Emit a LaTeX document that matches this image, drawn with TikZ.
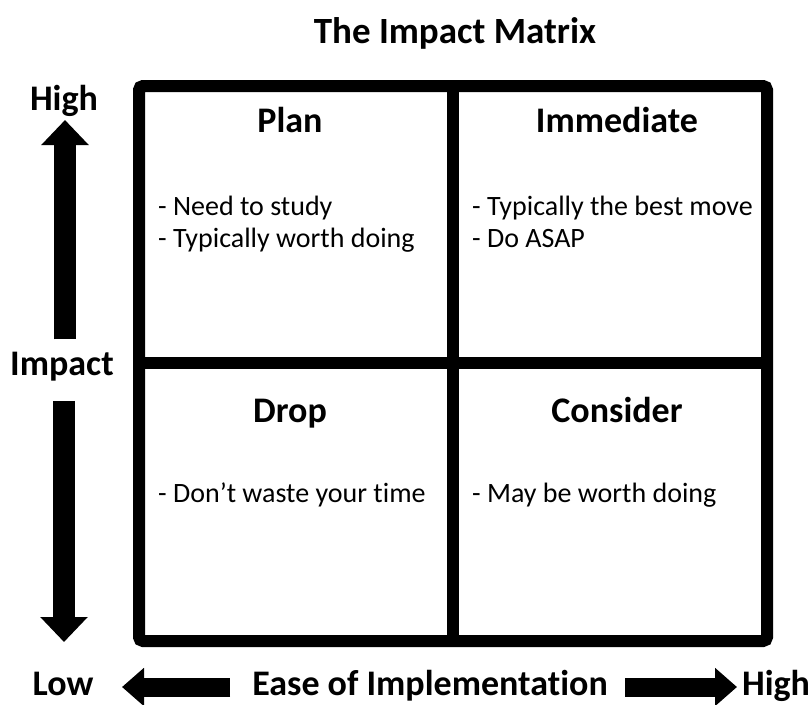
\documentclass[tikz,border=0pt]{standalone}
\usepackage{fontspec}
\setmainfont{Carlito}[Ligatures={NoCommon}]
\usetikzlibrary{arrows.meta}
\begin{document}
\begin{tikzpicture}[x=1pt,y=-1pt,
  heading/.style={font=\bfseries\fontsize{36}{43}\selectfont, anchor=base, inner sep=0pt},
  bullet/.style={font=\fontsize{28}{33.6}\selectfont, anchor=base west, inner sep=0pt},
  axislabel/.style={font=\bfseries\fontsize{36}{43}\selectfont, anchor=base, inner sep=0pt},
  frame/.style={line width=12pt, black},
  vbig/.style={line width=22pt, -{Triangle[width=46pt,length=25pt]}},
  hbig/.style={line width=19pt, -{Triangle[width=37pt,length=22pt]}}
]
\useasboundingbox (0,0) rectangle (811,704);
% title
\node[heading, font=\bfseries\fontsize{37}{44}\selectfont] (title) at (455,43) {The Impact Matrix};
% matrix frame
\draw[frame, rounded corners=4pt] (139,86) rectangle (767,641);
\draw[frame] (453,86) -- (453,641);
\draw[frame] (139,363) -- (767,363);
% quadrant headings
\node[heading] (plan) at (290,132) {Plan};
\node[heading] (immediate) at (617,132) {Immediate};
\node[heading] (drop) at (290,422) {Drop};
\node[heading] (consider) at (617,422) {Consider};
% bullets
\node[bullet] (p1) at (158,215) {- Need to study};
\node[bullet] (p2) at (158,247) {- Typically worth doing};
\node[bullet] (i1) at (472,215) {- Typically the best move};
\node[bullet] (i2) at (472,247) {- Do ASAP};
\node[bullet] (d1) at (158,502) {- Don’t waste your time};
\node[bullet] (c1) at (472,502) {- May be worth doing};
% vertical axis
\node[axislabel] (vhigh) at (64,110) {High};
\node[axislabel] (impact) at (62,375) {Impact};
\coordinate (uptip) at (65,120);
\coordinate (downtip) at (64,642);
\draw[vbig] ([yshift=12pt]impact.north -| uptip) -- (uptip);
\draw[vbig] ([yshift=-20pt]impact.south -| downtip) -- (downtip);
% horizontal axis
\node[axislabel] (low) at (63,695) {Low};
\node[axislabel] (ease) at (430,695) {Ease of Implementation};
\node[axislabel] (hhigh) at (776,695) {High};
\coordinate (lefttip) at (122,687);
\coordinate (righttip) at (737,687);
\draw[hbig] (230,687) -- (lefttip);
\draw[hbig] (625,687) -- (righttip);
\end{tikzpicture}
\end{document}
